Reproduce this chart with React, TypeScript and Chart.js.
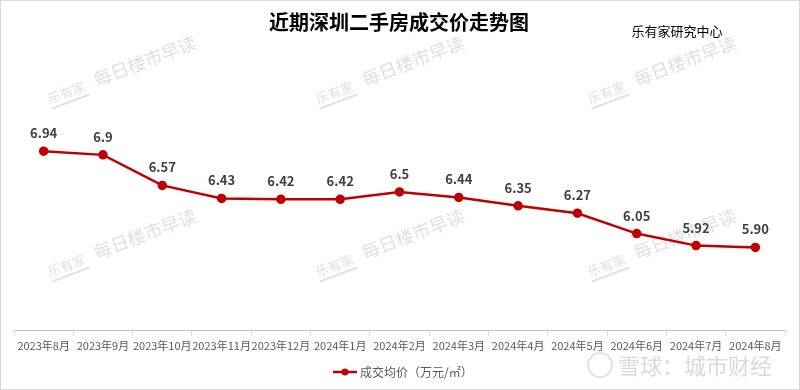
import React, { useEffect, useRef } from "react";
import { Chart, registerables } from "chart.js";

Chart.register(...registerables);

const categories = [
  "2023年8月", "2023年9月", "2023年10月", "2023年11月", "2023年12月",
  "2024年1月", "2024年2月", "2024年3月", "2024年4月", "2024年5月",
  "2024年6月", "2024年7月", "2024年8月",
];
const avgPrice = [6.94, 6.9, 6.57, 6.43, 6.42, 6.42, 6.5, 6.44, 6.35, 6.27, 6.05, 5.92, 5.9];
const priceLabels = ["6.94", "6.9", "6.57", "6.43", "6.42", "6.42", "6.5", "6.44", "6.35", "6.27", "6.05", "5.92", "5.90"];
const seriesName = "成交均价（万元/㎡）";
const chartTitle = "近期深圳二手房成交价走势图";
const sourceText = "乐有家研究中心";
const watermarkLogo = "乐有家";
const watermarkText = "每日楼市早读";
const footerMark = "雪球：城市财经";

const FONT = '"Noto Sans CJK SC", "Microsoft YaHei", sans-serif';
const RED = "#C00000";

const decorPlugin = {
  id: "decor",
  beforeDraw(chart: any) {
    const ctx = chart.ctx;
    const W = chart.width;
    const H = chart.height;
    ctx.save();
    ctx.fillStyle = "#ffffff";
    ctx.fillRect(0, 0, W, H);
    // watermarks
    const spots = [
      [50, 104], [318, 104], [590, 104],
      [50, 277], [318, 277], [590, 277],
    ];
    for (const [x, y] of spots) {
      ctx.save();
      ctx.translate(x, y);
      ctx.rotate(-0.36);
      ctx.fillStyle = "#e0e0e0";
      ctx.font = `13px ${FONT}`;
      ctx.textBaseline = "alphabetic";
      ctx.textAlign = "left";
      ctx.fillText(watermarkLogo, 0, 0);
      ctx.fillRect(0, 4, 40, 2);
      ctx.font = `18px ${FONT}`;
      ctx.fillText(watermarkText, 50, 0);
      ctx.restore();
    }
    // title
    ctx.fillStyle = "#000000";
    ctx.font = `bold 20px ${FONT}`;
    ctx.textAlign = "center";
    ctx.textBaseline = "middle";
    ctx.fillText(chartTitle, 399, 22);
    ctx.font = `13px ${FONT}`;
    ctx.fillText(sourceText, 677, 31);
    ctx.restore();
  },
  afterDraw(chart: any) {
    const ctx = chart.ctx;
    ctx.save();
    // data labels
    const meta = chart.getDatasetMeta(0);
    ctx.font = `bold 13px ${FONT}`;
    ctx.fillStyle = "#404040";
    ctx.textAlign = "center";
    ctx.textBaseline = "middle";
    meta.data.forEach((pt: any, i: number) => {
      ctx.fillText(priceLabels[i], pt.x, pt.y - 18);
    });
    // legend
    const ly = 372;
    ctx.strokeStyle = RED;
    ctx.lineWidth = 2.5;
    ctx.beginPath();
    ctx.moveTo(333, ly);
    ctx.lineTo(357, ly);
    ctx.stroke();
    ctx.fillStyle = RED;
    ctx.beginPath();
    ctx.arc(345, ly, 3.5, 0, Math.PI * 2);
    ctx.fill();
    ctx.fillStyle = "#595959";
    ctx.font = `12px ${FONT}`;
    ctx.textAlign = "left";
    ctx.fillText(seriesName, 360, ly);
    // footer watermark
    ctx.strokeStyle = "rgba(185,185,185,0.55)";
    ctx.lineWidth = 1.5;
    ctx.beginPath();
    ctx.arc(600, 365, 12, 0, Math.PI * 2);
    ctx.stroke();
    ctx.fillStyle = "rgba(185,185,185,0.55)";
    ctx.font = `22px ${FONT}`;
    ctx.fillText(footerMark, 618, 366);
    // border
    ctx.strokeStyle = "#d9d9d9";
    ctx.lineWidth = 1;
    ctx.strokeRect(0.5, 0.5, chart.width - 1, chart.height - 1);
    ctx.restore();
  },
};

export default function App() {
  const ref = useRef<HTMLCanvasElement>(null);
  useEffect(() => {
    if (!ref.current) return;
    const chart = new Chart(ref.current, {
      type: "line",
      data: {
        labels: categories,
        datasets: [
          {
            label: seriesName,
            data: avgPrice,
            borderColor: RED,
            backgroundColor: RED,
            borderWidth: 2.5,
            pointRadius: 3.5,
            pointBackgroundColor: RED,
            pointBorderColor: RED,
            tension: 0,
          },
        ],
      },
      options: {
        responsive: true,
        maintainAspectRatio: false,
        animation: false,
        layout: { padding: { top: 53, left: 14, right: 15, bottom: 35 } },
        plugins: {
          legend: { display: false },
          title: { display: false },
          tooltip: { enabled: false },
        },
        scales: {
          x: {
            offset: true,
            grid: {
              offset: true,
              drawOnChartArea: false,
              drawTicks: true,
              tickLength: 5,
              color: "#d9d9d9",
            },
            border: { color: "#bfbfbf", width: 1 },
            ticks: {
              color: "#595959",
              font: { family: FONT, size: 11 },
              maxRotation: 0,
              minRotation: 0,
              autoSkip: false,
              padding: 3,
            },
          },
          y: {
            display: false,
            min: 5,
            max: 8,
          },
        },
      },
      plugins: [decorPlugin],
    });
    return () => chart.destroy();
  }, []);
  return (
    <div style={{ position: "absolute", left: 0, top: 0, width: 800, height: 390 }}>
      <canvas ref={ref} />
    </div>
  );
}
